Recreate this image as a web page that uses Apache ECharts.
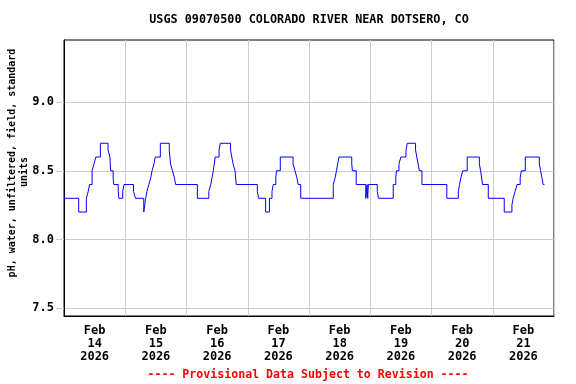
<!DOCTYPE html>
<html><head><meta charset="utf-8">
<script src="https://cdn.jsdelivr.net/npm/echarts@6/dist/echarts.min.js"></script>
<style>html,body{margin:0;padding:0;background:#fff}#c{width:576px;height:384px}</style>
</head><body><div id="c"></div>
<script>
const titleText = 'USGS 09070500 COLORADO RIVER NEAR DOTSERO, CO';
const yNameLines = ['pH, water, unfiltered, field, standard', 'units'];
const footnote = '---- Provisional Data Subject to Revision ----';
const dayLabels = ['Feb\n14\n2026','Feb\n15\n2026','Feb\n16\n2026','Feb\n17\n2026','Feb\n18\n2026','Feb\n19\n2026','Feb\n20\n2026','Feb\n21\n2026'];
const dayLabelTimes = ['2026-02-14 12:00','2026-02-15 12:00','2026-02-16 12:00','2026-02-17 12:00','2026-02-18 12:00','2026-02-19 12:00','2026-02-20 12:00','2026-02-21 12:00'];
const dayBoundaries = ['2026-02-14 00:00','2026-02-15 00:00','2026-02-16 00:00','2026-02-17 00:00','2026-02-18 00:00','2026-02-19 00:00','2026-02-20 00:00','2026-02-21 00:00','2026-02-22 00:00'];
const yTickValues = [7.5, 8.0, 8.5, 9.0];
const yRange = [7.444, 9.451];

const phTimes = [
'2026-02-14 00:00','2026-02-14 05:45','2026-02-14 08:45','2026-02-14 09:30','2026-02-14 10:00','2026-02-14 11:00','2026-02-14 11:45','2026-02-14 12:30','2026-02-14 14:15','2026-02-14 17:15','2026-02-14 18:00','2026-02-14 18:15','2026-02-14 19:15','2026-02-14 19:30','2026-02-14 21:15','2026-02-14 21:30','2026-02-14 23:00','2026-02-14 23:30',
'2026-02-15 03:15','2026-02-15 04:00','2026-02-15 07:15','2026-02-15 08:00','2026-02-15 08:30','2026-02-15 09:15','2026-02-15 10:00','2026-02-15 10:30','2026-02-15 11:15','2026-02-15 11:45','2026-02-15 13:45','2026-02-15 17:15','2026-02-15 17:45','2026-02-15 18:30','2026-02-15 19:15','2026-02-15 19:45',
'2026-02-16 04:15','2026-02-16 08:45','2026-02-16 09:30','2026-02-16 10:00','2026-02-16 10:30','2026-02-16 11:15','2026-02-16 12:45','2026-02-16 13:15','2026-02-16 17:15','2026-02-16 17:45','2026-02-16 18:15','2026-02-16 19:00','2026-02-16 19:30',
'2026-02-17 03:45','2026-02-17 04:15','2026-02-17 07:00','2026-02-17 08:30','2026-02-17 09:30','2026-02-17 10:00','2026-02-17 11:00','2026-02-17 11:15','2026-02-17 12:45','2026-02-17 17:45','2026-02-17 18:30','2026-02-17 19:15','2026-02-17 19:45','2026-02-17 20:45',
'2026-02-18 09:30','2026-02-18 10:15','2026-02-18 10:45','2026-02-18 11:15','2026-02-18 11:45','2026-02-18 16:45','2026-02-18 17:00','2026-02-18 18:30','2026-02-18 22:15','2026-02-18 22:30','2026-02-18 22:45','2026-02-18 23:00','2026-02-18 23:15',
'2026-02-19 02:45','2026-02-19 03:15','2026-02-19 09:00','2026-02-19 10:00','2026-02-19 10:15','2026-02-19 11:15','2026-02-19 12:00','2026-02-19 14:00','2026-02-19 14:30','2026-02-19 17:45','2026-02-19 18:15','2026-02-19 18:45','2026-02-19 19:15','2026-02-19 20:15',
'2026-02-20 06:00','2026-02-20 10:30','2026-02-20 11:00','2026-02-20 11:30','2026-02-20 12:15','2026-02-20 14:00','2026-02-20 18:45','2026-02-20 19:15','2026-02-20 20:00','2026-02-20 22:15',
'2026-02-21 04:30','2026-02-21 07:30','2026-02-21 08:00','2026-02-21 08:45','2026-02-21 09:30','2026-02-21 10:45','2026-02-21 11:15','2026-02-21 12:45','2026-02-21 18:15','2026-02-21 18:45','2026-02-21 19:15','2026-02-21 19:45','2026-02-21 20:15'
];
const phValues = [
8.3,8.2,8.3,8.35,8.4,8.5,8.55,8.6,8.7,8.65,8.6,8.5,8.45,8.4,8.35,8.3,8.35,8.4,
8.35,8.3,8.2,8.3,8.35,8.4,8.45,8.5,8.55,8.6,8.7,8.65,8.55,8.5,8.45,8.4,
8.3,8.35,8.4,8.45,8.5,8.6,8.65,8.7,8.65,8.6,8.55,8.5,8.4,
8.35,8.3,8.2,8.3,8.35,8.4,8.45,8.5,8.6,8.55,8.5,8.45,8.4,8.3,
8.4,8.45,8.5,8.55,8.6,8.55,8.5,8.4,8.3,8.35,8.4,8.3,8.4,
8.35,8.3,8.4,8.45,8.5,8.55,8.6,8.65,8.7,8.65,8.6,8.55,8.5,8.4,
8.3,8.35,8.4,8.45,8.5,8.6,8.55,8.5,8.4,8.3,
8.2,8.25,8.3,8.35,8.4,8.45,8.5,8.6,8.55,8.5,8.45,8.4,8.4
];

function toMs(s) {
  const [d, t] = s.split(' ');
  const [Y, M, D] = d.split('-').map(Number);
  const [h, m] = t.split(':').map(Number);
  return Date.UTC(Y, M - 1, D, h, m);
}

const FONT = "'DejaVu Sans Mono', 'Liberation Mono', monospace";
const labelMs = dayLabelTimes.map(toMs);
const boundMs = dayBoundaries.map(toMs);

const chart = echarts.init(document.getElementById('c'), null, {renderer: 'canvas'});
chart.setOption({
  animation: false,
  backgroundColor: '#ffffff',
  grid: {left: 64, right: 22, top: 40, bottom: 68, show: true, borderColor: '#000', borderWidth: 1, backgroundColor: 'transparent', containLabel: false},
  graphic: [
    {type: 'text', x: 309, y: 20, style: {text: titleText, fill: '#000', font: "bold 11.8px " + FONT, align: 'center', verticalAlign: 'middle'}},
    {type: 'text', x: 308, y: 375, style: {text: footnote, fill: '#ff0000', font: "bold 11.6px " + FONT, align: 'center', verticalAlign: 'middle'}},
    {type: 'text', x: 12, y: 163, rotation: Math.PI / 2, style: {text: yNameLines[0], fill: '#000', font: "bold 10px " + FONT, align: 'center', verticalAlign: 'middle'}},
    {type: 'text', x: 24, y: 172, rotation: Math.PI / 2, style: {text: yNameLines[1], fill: '#000', font: "bold 10px " + FONT, align: 'center', verticalAlign: 'middle'}}
  ],
  xAxis: {
    type: 'value',
    min: boundMs[0], max: boundMs[boundMs.length - 1],
    axisLine: {show: true, lineStyle: {color: '#000', width: 1}},
    axisTick: {show: false, customValues: boundMs},
    splitLine: {show: true, lineStyle: {color: '#cccccc', width: 1}},
    axisLabel: {
      customValues: labelMs,
      formatter: function (v) { const i = labelMs.indexOf(v); return i >= 0 ? dayLabels[i] : ''; },
      color: '#000', fontFamily: FONT, fontWeight: 'bold', fontSize: 12, lineHeight: 13, margin: 8
    }
  },
  yAxis: {
    type: 'value',
    min: yRange[0], max: yRange[1],
    axisLine: {show: true, lineStyle: {color: '#000', width: 1}},
    axisTick: {show: true, customValues: yTickValues, length: 8, lineStyle: {color: '#cccccc'}},
    splitLine: {show: true, lineStyle: {color: '#cccccc', width: 1}},
    axisLabel: {
      customValues: yTickValues,
      formatter: function (v) { return v.toFixed(1); },
      color: '#000', fontFamily: FONT, fontWeight: 'bold', fontSize: 12, margin: 10
    }
  },
  series: [{
    type: 'line',
    step: 'end',
    showSymbol: false,
    lineStyle: {color: '#0000ff', width: 1},
    data: phTimes.map(function (t, i) { return [toMs(t), phValues[i]]; })
  }]
});
</script>
</body></html>
